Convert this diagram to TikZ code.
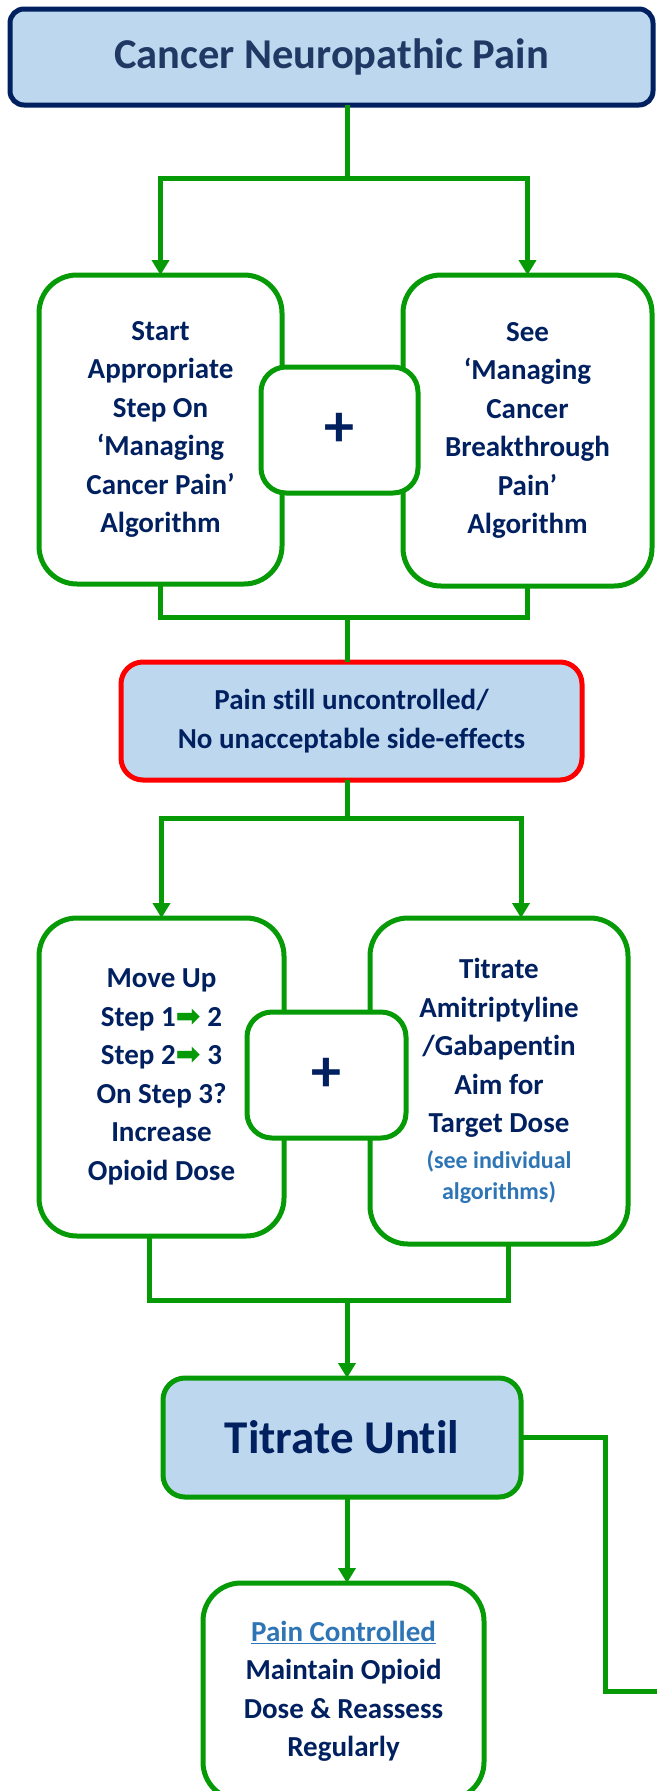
\documentclass[tikz,border=0pt]{standalone}
\usepackage{fontspec}
\setmainfont{Carlito}[Ligatures={TeX,NoCommon}]
\newfontfamily\symfont{DejaVu Sans}
\usetikzlibrary{arrows.meta}
\definecolor{navy}{HTML}{002060}
\definecolor{ink}{HTML}{002060}
\definecolor{titleink}{HTML}{1F3864}
\definecolor{paleblue}{HTML}{BDD7EE}
\definecolor{leaf}{HTML}{079A07}
\definecolor{alert}{HTML}{FF0000}
\definecolor{linkblue}{HTML}{2E75B6}
\newcommand{\stepto}{{\symfont\fontsize{30}{30}\selectfont\color{leaf}➡}}

\begin{document}
\begin{tikzpicture}[x=1pt,y=-1pt,font=\bfseries\fontsize{29}{38.5}\selectfont,text=ink,
  box/.style={rectangle,draw=leaf,fill=white,line width=5pt,inner sep=0pt,outer sep=0pt,align=center},
  bigbox/.style={box,rounded corners=38pt},
  plusbox/.style={box,rounded corners=25pt,minimum height=126pt,font=\bfseries\fontsize{60}{60}\selectfont},
  shaded/.style={box,fill=paleblue,rounded corners=22pt},
  flow/.style={draw=leaf,line width=5pt},
  arrowline/.style={flow,-{Triangle[width=17pt,length=15pt]}}]
  \useasboundingbox[fill=white] (0,0) rectangle (656,1791);

  \node[shaded,draw=navy,rounded corners=14pt,minimum width=643pt,minimum height=96pt,
        text=titleink,font=\bfseries\fontsize{42.5}{50}\selectfont] (title) at (331.5,57) {Cancer Neuropathic Pain};

  \node[bigbox,minimum width=243pt,minimum height=309pt] (start) at (160.5,429.5)
    {Start\\Appropriate\\Step On\\‘Managing\\Cancer Pain’\\Algorithm};
  \node[bigbox,minimum width=249pt,minimum height=311pt] (breakthrough) at (527.5,430.5)
    {See\\‘Managing\\Cancer\\Breakthrough\\Pain’\\Algorithm};
  \node[plusbox,minimum width=157pt] (plusA) at (339.5,430) {+};

  \node[shaded,draw=alert,minimum width=461pt,minimum height=118pt] (uncontrolled) at (351.5,721)
    {Pain still uncontrolled/\\No unacceptable side-effects};

  \node[bigbox,minimum width=245pt,minimum height=318pt] (moveup) at (161.5,1077)
    {Move Up\\Step 1\stepto{} 2\\Step 2\stepto{} 3\\On Step 3?\\Increase\\Opioid Dose};
  \node[bigbox,minimum width=258pt,minimum height=326pt] (titrate) at (499,1081)
    {Titrate\\Amitriptyline\\/Gabapentin\\Aim for\\Target Dose\\[-2.5pt]
     {\fontsize{24}{31}\selectfont\color{linkblue}(see individual}\\[-7.5pt]
     {\fontsize{24}{31}\selectfont\color{linkblue}algorithms)}};
  \node[plusbox,minimum width=159pt] (plusB) at (326.5,1075) {+};

  \node[shaded,minimum width=358pt,minimum height=119pt,font=\bfseries\fontsize{47}{52}\selectfont]
    (until) at (342,1437.5) {Titrate Until};

  \node[bigbox,minimum width=281pt,minimum height=217pt] (controlled) at (343.5,1691.5)
    {\textcolor{linkblue}{\underline{Pain Controlled}}\\Maintain Opioid\\Dose \& Reassess\\Regularly};

  \coordinate (splitA) at (347,178);
  \coordinate (joinA) at (347,617);
  \coordinate (splitB) at (347,818);
  \coordinate (splitBright) at (521,818);
  \coordinate (joinBleft) at (149,1300);
  \coordinate (joinBright) at (508,1300);
  \coordinate (joinB) at (347,1300);
  \coordinate (bend) at (605,1691);
  \coordinate (exit) at (670,1691);

  \draw[flow] (title.south -| splitA) -- (splitA);
  \draw[arrowline] (splitA) -| (start.north);
  \draw[arrowline] (splitA) -| (breakthrough.north);
  \draw[flow] (start.south) |- (joinA) -| (breakthrough.south);
  \draw[flow] (joinA) -- (joinA |- uncontrolled.north);
  \draw[flow] (uncontrolled.south -| splitB) -- (splitB);
  \draw[arrowline] (splitB) -| (moveup.north);
  \draw[arrowline] (splitB) -- (splitBright) -- (splitBright |- titrate.north);
  \draw[flow] (joinBleft |- moveup.south) -- (joinBleft) -- (joinBright) -- (joinBright |- titrate.south);
  \draw[arrowline] (joinB) -- (joinB |- until.north);
  \draw[arrowline] (until.south -| joinB) -- (joinB |- controlled.north);
  \draw[flow] (until.east) -| (bend) -- (exit);
\end{tikzpicture}
\end{document}
